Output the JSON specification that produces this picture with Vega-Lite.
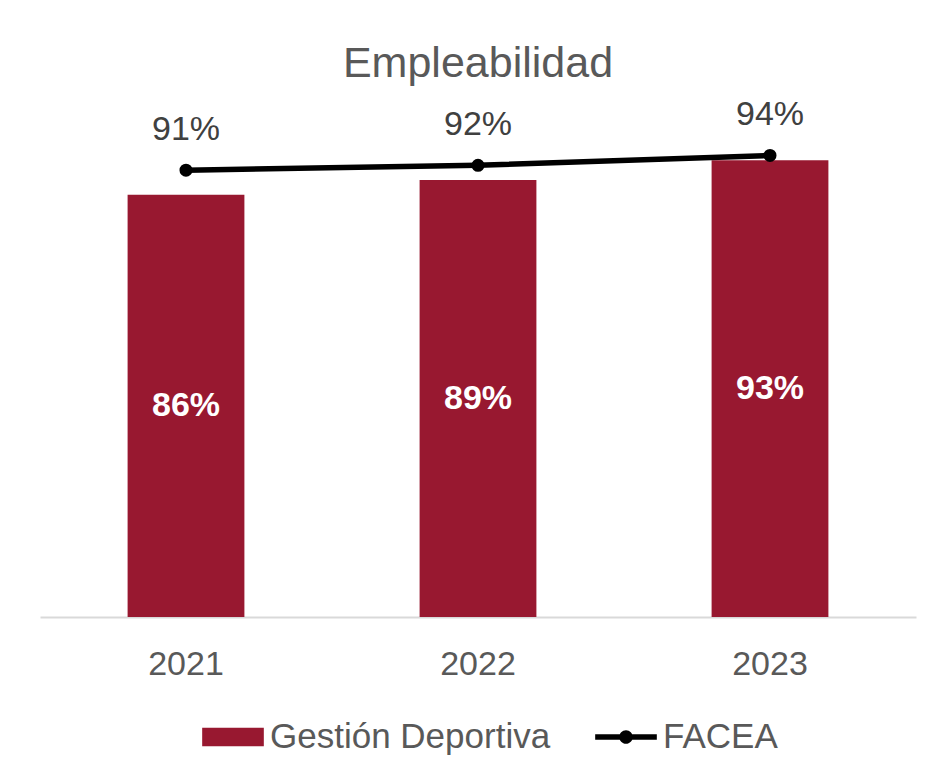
{
  "$schema": "https://vega.github.io/schema/vega-lite/v6.json",
  "autosize": {"type": "none"},
  "width": 876,
  "height": 491,
  "padding": {"left": 40, "top": 126, "right": 23, "bottom": 161},
  "background": "white",
  "config": {
    "view": {"stroke": null},
    "font": "Liberation Sans",
    "text": {"font": "Liberation Sans"}
  },
  "title": {
    "text": "Empleabilidad",
    "fontSize": 43,
    "fontWeight": "normal",
    "color": "#595959",
    "font": "Liberation Sans",
    "anchor": "middle",
    "frame": "group",
    "offset": 12
  },
  "data": {
    "values": [
      {"year": "2021", "series": "Gestión Deportiva", "value": 0.86},
      {"year": "2022", "series": "Gestión Deportiva", "value": 0.89},
      {"year": "2023", "series": "Gestión Deportiva", "value": 0.93},
      {"year": "2021", "series": "FACEA", "value": 0.91},
      {"year": "2022", "series": "FACEA", "value": 0.92},
      {"year": "2023", "series": "FACEA", "value": 0.94}
    ]
  },
  "encoding": {
    "x": {
      "field": "year",
      "type": "nominal",
      "scale": {"paddingInner": 0.6, "paddingOuter": 0.3},
      "axis": {
        "title": null,
        "labelAngle": 0,
        "labelFontSize": 34,
        "labelFont": "Liberation Sans",
        "labelColor": "#595959",
        "labelPadding": 30,
        "ticks": false,
        "domainColor": "#d9d9d9",
        "domainWidth": 2
      }
    }
  },
  "resolve": {"scale": {"y": "independent"}},
  "layer": [
    {
      "transform": [{"filter": "datum.series === 'Gestión Deportiva'"}],
      "mark": {"type": "bar"},
      "encoding": {
        "y": {"field": "value", "type": "quantitative", "scale": {"domain": [0, 1]}, "axis": null},
        "color": {
          "field": "series",
          "type": "nominal",
          "scale": {"domain": ["Gestión Deportiva", "FACEA"], "range": ["#981830", "#000000"]},
          "legend": {
            "title": null,
            "orient": "none",
            "legendX": 162,
            "legendY": 580,
            "direction": "horizontal",
            "labelFontSize": 35,
            "labelFont": "Liberation Sans",
            "labelColor": "#595959",
            "labelLimit": 400,
            "labelOffset": 6,
            "columnPadding": 44,
            "symbolSize": 3800,
            "symbolStrokeWidth": 0,
            "encode": {
              "symbols": {
                "update": {
                  "shape": {"signal": "datum.value === 'FACEA' ? 'M-1,-0.09H1V0.09H-1Z M-0.22,0A0.22,0.22 0 1,1 0.22,0A0.22,0.22 0 1,1 -0.22,0Z' : 'M-1,-0.3H1V0.3H-1Z'"},
                  "fill": {"signal": "datum.value === 'FACEA' ? '#000000' : '#981830'"},
                  "strokeWidth": {"value": 0}
                }
              }
            }
          }
        }
      }
    },
    {
      "transform": [{"filter": "datum.series === 'Gestión Deportiva'"}],
      "mark": {"type": "text", "color": "white", "fontWeight": "bold", "fontSize": 34, "baseline": "middle"},
      "encoding": {
        "y": {"field": "value", "type": "quantitative", "scale": {"domain": [0, 2]}, "axis": null},
        "text": {"field": "value", "type": "quantitative", "format": ".0%"}
      }
    },
    {
      "transform": [{"filter": "datum.series === 'FACEA'"}],
      "mark": {"type": "line", "strokeWidth": 5.5, "point": {"filled": true, "size": 170, "color": "#000000"}},
      "encoding": {
        "y": {"field": "value", "type": "quantitative", "scale": {"domain": [0, 1]}, "axis": null},
        "color": {"field": "series", "type": "nominal", "legend": null}
      }
    },
    {
      "transform": [{"filter": "datum.series === 'FACEA'"}],
      "mark": {"type": "text", "color": "#404040", "fontSize": 34, "baseline": "middle", "dy": -40},
      "encoding": {
        "y": {"field": "value", "type": "quantitative", "scale": {"domain": [0, 1]}, "axis": null},
        "text": {"field": "value", "type": "quantitative", "format": ".0%"}
      }
    }
  ]
}
